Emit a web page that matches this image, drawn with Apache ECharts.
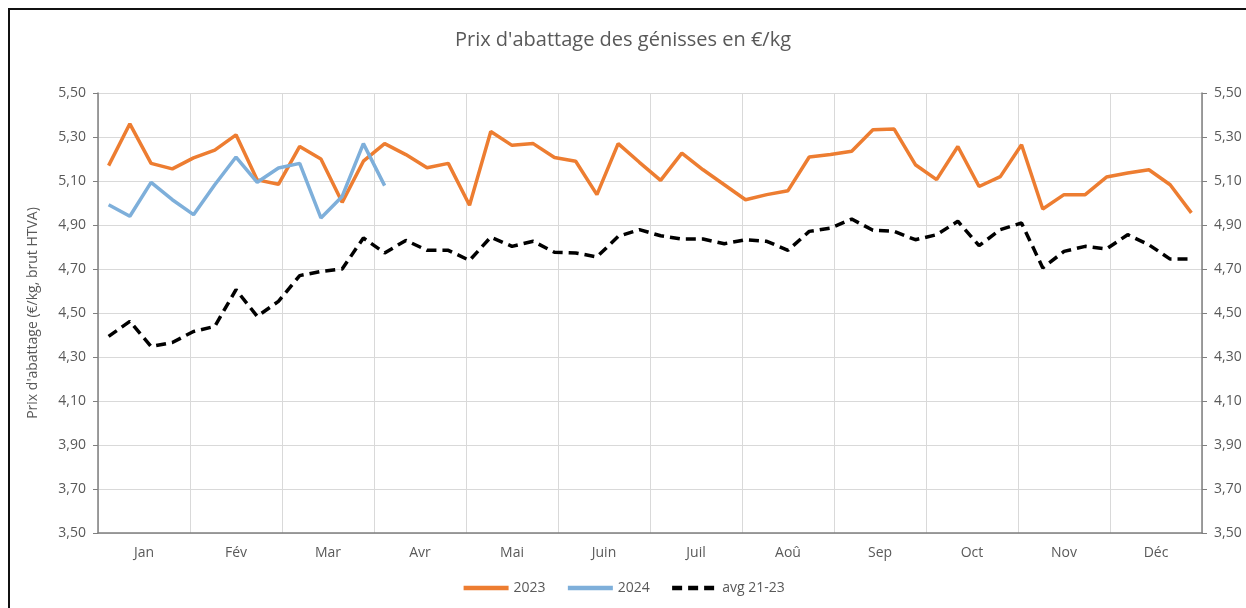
<!DOCTYPE html>
<html>
<head>
<meta charset="utf-8">
<script src="https://cdn.jsdelivr.net/npm/echarts@6/dist/echarts.min.js"></script>
<style>
  html, body { margin: 0; padding: 0; background: #fff; }
  .frame { position: absolute; left: 0; top: 0; width: 1246px; height: 608px; }
  .border { position: absolute; left: 8px; top: 8px; right: -4px; bottom: -4px; border-left: 2px solid #111; border-top: 2px solid #111; }
  #chart { position: absolute; left: 0; top: 0; width: 1246px; height: 608px; }
</style>
</head>
<body>
<div class="frame">
  <div id="chart"></div>
  <div class="border"></div>
</div>
<script>
// mois affichés sur l'axe
const months = ['Jan', 'Fév', 'Mar', 'Avr', 'Mai', 'Juin', 'Juil', 'Aoû', 'Sep', 'Oct', 'Nov', 'Déc']
// 52 semaines
const weeks = Array.from({ length: 52 }, (_, i) => 'S' + (i + 1))
const yTicks = [3.5, 3.7, 3.9, 4.1, 4.3, 4.5, 4.7, 4.9, 5.1, 5.3, 5.5]

const prix2023 = [
  5.17, 5.36, 5.18, 5.155, 5.205, 5.24, 5.31, 5.105, 5.085, 5.257,
  5.20, 5.003, 5.19, 5.27, 5.22, 5.16, 5.18, 4.99, 5.325, 5.262,
  5.27, 5.207, 5.19, 5.038, 5.27, 5.185, 5.103, 5.227, 5.151, 5.083,
  5.015, 5.038, 5.056, 5.209, 5.22, 5.235, 5.333, 5.336, 5.174, 5.106,
  5.257, 5.075, 5.12, 5.265, 4.973, 5.038, 5.038, 5.118, 5.136, 5.151,
  5.083, 4.955
]
const prix2024 = [
  4.992, 4.94, 5.094, 5.015, 4.947, 5.083, 5.209, 5.094, 5.159, 5.18,
  4.932, 5.03, 5.27, 5.079
]
const avg2123 = [
  4.394, 4.462, 4.348, 4.366, 4.416, 4.439, 4.606, 4.485, 4.553, 4.67,
  4.689, 4.70, 4.841, 4.773, 4.83, 4.785, 4.785, 4.739, 4.845, 4.803,
  4.826, 4.776, 4.773, 4.755, 4.848, 4.879, 4.851, 4.836, 4.836, 4.815,
  4.833, 4.826, 4.785, 4.871, 4.886, 4.927, 4.876, 4.871, 4.833, 4.856,
  4.917, 4.806, 4.879, 4.909, 4.705, 4.78, 4.803, 4.791, 4.856, 4.81,
  4.745, 4.745
]

const chartInstance = echarts.init(document.getElementById('chart'))
const fontFamily = 'Open Sans, sans-serif'
const textGrey = '#595959'
const fmt = v => v.toFixed(2).replace('.', ',')

const yAxisBase = {
  type: 'value',
  min: yTicks[0],
  max: yTicks[yTicks.length - 1],
  interval: 0.2,
  axisLine: { show: true, lineStyle: { color: '#7f7f7f', width: 1.5 } },
  axisTick: { show: true, length: 5, lineStyle: { color: '#7f7f7f' } },
  axisLabel: { color: textGrey, fontSize: 14, fontFamily, formatter: fmt, margin: 12 }
}

const option = {
  animation: false,
  title: {
    text: "Prix d'abattage des génisses en €/kg",
    left: 'center',
    top: 25,
    textStyle: { color: textGrey, fontSize: 20, fontWeight: 'normal', fontFamily }
  },
  grid: { left: 98, right: 44, top: 93, bottom: 75 },
  legend: {
    bottom: 8,
    left: 'center',
    itemWidth: 45,
    itemHeight: 8,
    itemGap: 20,
    textStyle: { color: textGrey, fontSize: 14, fontFamily },
    itemStyle: { opacity: 0 },
    lineStyle: { width: 4.5 },
    data: ['2023', '2024', 'avg 21-23']
  },
  xAxis: [
    {
      type: 'category',
      data: weeks,
      boundaryGap: true,
      show: false
    },
    {
      type: 'category',
      data: months,
      boundaryGap: true,
      position: 'bottom',
      axisLine: { show: true, lineStyle: { color: '#7f7f7f', width: 1.5 } },
      axisTick: { show: false },
      axisLabel: { color: textGrey, fontSize: 14, fontFamily, margin: 13 },
      splitLine: { show: true, interval: 0, lineStyle: { color: '#d9d9d9' } }
    }
  ],
  yAxis: [
    Object.assign({}, yAxisBase, {
      position: 'left',
      name: "Prix d'abattage (€/kg, brut HTVA)",
      nameLocation: 'middle',
      nameGap: 58,
      nameTextStyle: { color: textGrey, fontSize: 14, fontFamily },
      splitLine: { show: true, lineStyle: { color: '#d9d9d9' } }
    }),
    Object.assign({}, yAxisBase, {
      position: 'right',
      splitLine: { show: false }
    })
  ],
  series: [
    {
      name: '2023',
      type: 'line',
      xAxisIndex: 0,
      yAxisIndex: 0,
      data: prix2023,
      symbol: 'none',
      color: '#ED7D31',
      lineStyle: { width: 3.5, color: '#ED7D31' },
      z: 3
    },
    {
      name: '2024',
      type: 'line',
      xAxisIndex: 0,
      yAxisIndex: 0,
      data: prix2024,
      symbol: 'none',
      color: '#7EAFDA',
      lineStyle: { width: 3.5, color: '#7EAFDA' },
      z: 4
    },
    {
      name: 'avg 21-23',
      type: 'line',
      xAxisIndex: 0,
      yAxisIndex: 0,
      data: avg2123,
      symbol: 'none',
      color: '#000',
      lineStyle: { width: 3.5, color: '#000', type: [10, 6] },
      z: 2
    }
  ]
}
chartInstance.setOption(option)
</script>
</body>
</html>
